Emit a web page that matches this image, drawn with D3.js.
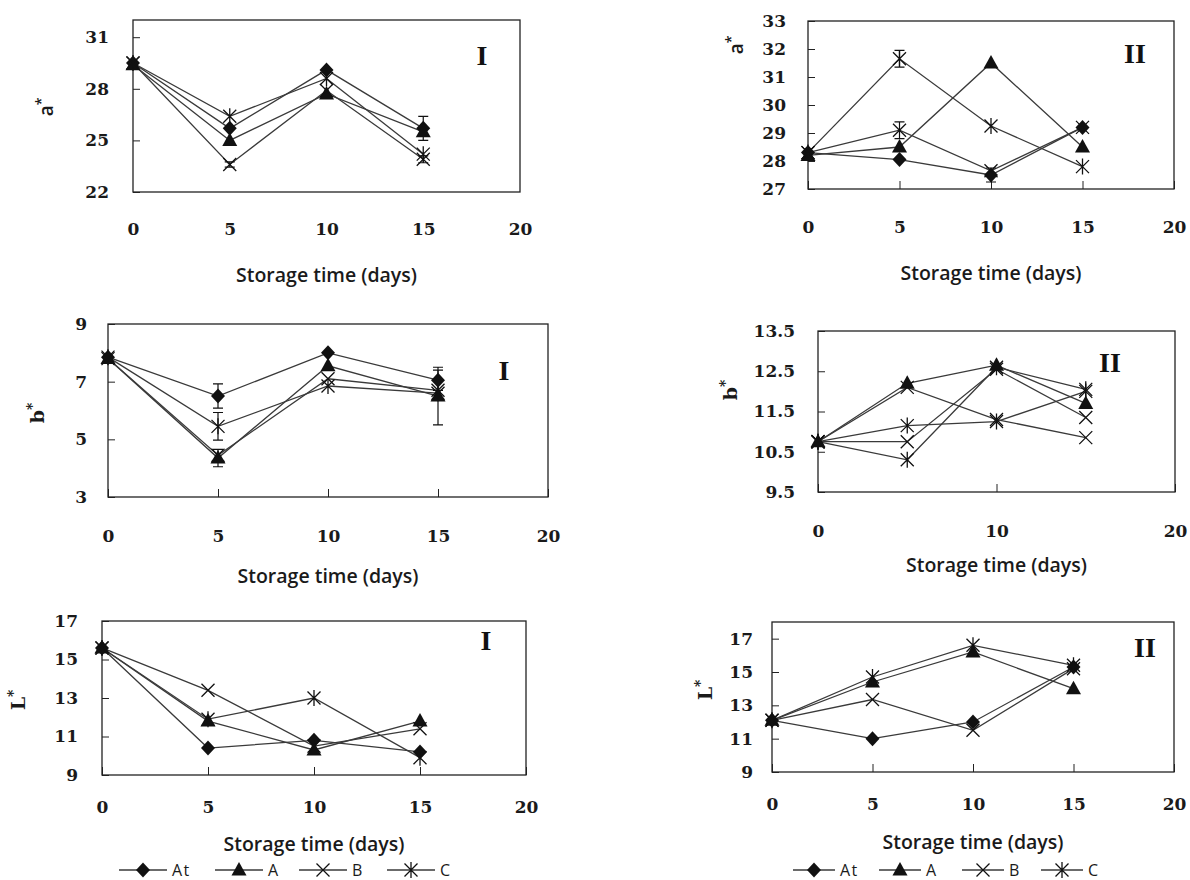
<!DOCTYPE html>
<html><head><meta charset="utf-8">
<script src="https://cdn.jsdelivr.net/npm/d3@7"></script>
<style>body{margin:0;background:#fff}</style>
</head><body>
<svg id="c" width="1190" height="880"></svg>
<script>
// ---------- DATA ----------
const days = [0, 5, 10, 15];
const seriesNames = ["At", "A", "B", "C"];
const xTicksFull = [0, 5, 10, 15, 20];
const xTicksSparse = [0, 10, 20];

// a* , I
const aI_At = [29.5, 25.7, 29.1, 25.7];
const aI_A  = [29.4, 25.0, 27.7, 25.5];
const aI_B  = [29.5, 23.6, 27.9, 23.9];
const aI_C  = [29.5, 26.4, 28.6, 24.2];
const aI_errAt = [0, 0, 0, 0.7];
const aI_errB  = [0, 0.15, 0, 0.2];
const aI_yTicks = [22, 25, 28, 31];

// a* , II
const aII_At = [28.3, 28.05, 27.5, 29.2];
const aII_A  = [28.2, 28.5, 31.5, 28.5];
const aII_B  = [28.3, 29.1, 27.65, 29.2];
const aII_C  = [28.3, 31.65, 29.25, 27.8];
const aII_errAt = [0, 0, 0.25, 0];
const aII_errB  = [0, 0.3, 0, 0];
const aII_errC  = [0, 0.3, 0, 0];
const aII_yTicks = [27, 28, 29, 30, 31, 32, 33];

// b* , I
const bI_At = [7.85, 6.5, 8.0, 7.05];
const bI_A  = [7.8, 4.35, 7.55, 6.5];
const bI_B  = [7.8, 4.45, 7.1, 6.7];
const bI_C  = [7.85, 5.45, 6.85, 6.6];
const bI_errAt = [0, 0.42, 0, 0.35];
const bI_errA  = [0, 0.3, 0, 1.0];
const bI_errC  = [0, 0.48, 0, 0];
const bI_yTicks = [3, 5, 7, 9];

// b* , II (five traces are visible in the picture)
const bII_A  = [10.75, 12.2, 12.65, 11.7];
const bII_B1 = [10.75, 12.1, 11.3, 10.85];
const bII_B2 = [10.75, 10.75, 12.55, 11.35];
const bII_C1 = [10.75, 11.15, 11.25, 12.0];
const bII_C2 = [10.75, 10.3, 12.6, 12.05];
const bII_yTicks = [9.5, 10.5, 11.5, 12.5, 13.5];

// L* , I
const LI_At = [15.6, 10.4, 10.8, 10.2];
const LI_A  = [15.6, 11.8, 10.3, 11.8];
const LI_B  = [15.6, 13.4, 10.5, 11.4];
const LI_C  = [15.6, 11.9, 13.0, 9.9];
const LI_yTicks = [9, 11, 13, 15, 17];

// L* , II
const LII_At = [12.1, 11.0, 12.0, 15.3];
const LII_A  = [12.1, 14.4, 16.2, 14.0];
const LII_B  = [12.1, 13.35, 11.5, 15.2];
const LII_C  = [12.1, 14.7, 16.6, 15.4];
const LII_yTicks = [9, 11, 13, 15, 17];

const markerOf = {At: "diamond", A: "triangle", B: "x", C: "star"};

// ---------- LAYOUT ----------
const panels = [
  {l:133, r:520, t:20, b:192, dom:[22,32], yt:aI_yTicks, xt:xTicksFull, xInTick:false,
   ypad:24, xpad:31, ty:275, ylab:"a", ylx:46, yly:107, ylSerif:false, roman:"I", rx:482, ry:55,
   series:[["At",aI_At,aI_errAt],["A",aI_A,null],["B",aI_B,aI_errB],["C",aI_C,null]]},
  {l:808, r:1174, t:21, b:189, dom:[27,33], yt:aII_yTicks, xt:xTicksFull, xInTick:true,
   ypad:22, xpad:32, ty:273, ylab:"a", ylx:736, yly:45, ylSerif:false, roman:"II", rx:1135, ry:53,
   series:[["At",aII_At,aII_errAt],["A",aII_A,null],["B",aII_B,aII_errB],["C",aII_C,aII_errC]]},
  {l:108, r:548, t:324, b:497, dom:[3,9], yt:bI_yTicks, xt:xTicksFull, xInTick:true,
   ypad:21, xpad:33, ty:576, ylab:"b", ylx:37, yly:413, ylSerif:true, roman:"I", rx:504, ry:370,
   series:[["At",bI_At,bI_errAt],["A",bI_A,bI_errA],["B",bI_B,null],["C",bI_C,bI_errC]]},
  {l:818, r:1175, t:331, b:492, dom:[9.5,13.5], yt:bII_yTicks, xt:xTicksSparse, xInTick:true, yfmt:".1f",
   ypad:23, xpad:33, ty:565, ylab:"b", ylx:730, yly:390, ylSerif:true, roman:"II", rx:1110, ry:362,
   series:[["B",bII_B1,null],["B",bII_B2,null],["C",bII_C1,null],["C",bII_C2,null],["A",bII_A,null]]},
  {l:102, r:526, t:621, b:775, dom:[9,17], yt:LI_yTicks, xt:xTicksFull, xInTick:true,
   ypad:24, xpad:26, ty:844, ylab:"L", ylx:18, yly:700, ylSerif:true, roman:"I", rx:486, ry:640,
   series:[["At",LI_At,null],["A",LI_A,null],["B",LI_B,null],["C",LI_C,null]],
   legend:{y:870, mx:[143,239,323,411], half:24, tdx:29}},
  {l:772, r:1174, t:622, b:772, dom:[9,18], yt:LII_yTicks, xt:xTicksFull, xInTick:true,
   ypad:19, xpad:26, ty:842, ylab:"L", ylx:705, yly:690, ylSerif:true, roman:"II", rx:1145, ry:647,
   series:[["At",LII_At,null],["A",LII_A,null],["B",LII_B,null],["C",LII_C,null]],
   legend:{y:870, mx:[814,900,983,1062], half:21, tdx:26}}
];

const INK = "#111";
const LINE = "#3a3a3a";
const SANS = "'Open Sans', 'DejaVu Sans', sans-serif";
const SERIF = "'DejaVu Serif', 'Liberation Serif', serif";

const svg = d3.select("#c");
svg.append("rect").attr("width", 1190).attr("height", 880).attr("fill", "#fff");

function drawMarker(g, type, cx, cy) {
  if (type === "diamond") {
    const p = d3.path();
    p.moveTo(cx, cy - 7.5); p.lineTo(cx + 7, cy); p.lineTo(cx, cy + 7.5); p.lineTo(cx - 7, cy); p.closePath();
    g.append("path").attr("d", p.toString()).attr("fill", INK);
  } else if (type === "triangle") {
    const p = d3.path();
    p.moveTo(cx, cy - 8); p.lineTo(cx + 7.5, cy + 5.5); p.lineTo(cx - 7.5, cy + 5.5); p.closePath();
    g.append("path").attr("d", p.toString()).attr("fill", INK);
  } else {
    const p = d3.path();
    const h = 6.5;
    p.moveTo(cx - h, cy - h); p.lineTo(cx + h, cy + h);
    p.moveTo(cx - h, cy + h); p.lineTo(cx + h, cy - h);
    if (type === "star") { p.moveTo(cx, cy - 8); p.lineTo(cx, cy + 8); }
    g.append("path").attr("d", p.toString()).attr("fill", "none").attr("stroke", INK).attr("stroke-width", 1.3);
  }
}

panels.forEach(p => {
  const x = d3.scaleLinear().domain([0, 20]).range([p.l, p.r]);
  const y = d3.scaleLinear().domain(p.dom).range([p.b, p.t]);
  const g = svg.append("g");

  // y axis
  const ya = d3.axisLeft(y).tickValues(p.yt).tickSizeInner(-7).tickSizeOuter(0).tickPadding(p.ypad)
    .tickFormat(p.yfmt ? d3.format(p.yfmt) : d3.format("d"));
  const yg = g.append("g").attr("transform", `translate(${p.l},0)`).call(ya);
  yg.select(".domain").remove();
  yg.selectAll("line").attr("stroke", "#222");
  yg.selectAll("text").attr("font-family", SERIF).attr("font-weight", "bold").attr("font-size", 17).attr("fill", "#1a1a1a");

  // x axis
  const xa = d3.axisBottom(x).tickValues(p.xt).tickSizeInner(p.xInTick ? -8 : 0).tickSizeOuter(0).tickPadding(p.xpad)
    .tickFormat(d3.format("d"));
  const xg = g.append("g").attr("transform", `translate(0,${p.b})`).call(xa);
  xg.select(".domain").remove();
  xg.selectAll("line").attr("stroke", "#222");
  xg.selectAll("text").attr("font-family", SERIF).attr("font-weight", "bold").attr("font-size", 17).attr("fill", "#1a1a1a");

  // frame
  g.append("rect").attr("x", p.l).attr("y", p.t).attr("width", p.r - p.l).attr("height", p.b - p.t)
    .attr("fill", "none").attr("stroke", "#222").attr("stroke-width", 1.3);

  // series lines
  const line = d3.line().x((d, i) => x(days[i])).y(d => y(d));
  p.series.forEach(([name, vals]) => {
    g.append("path").datum(vals).attr("d", line).attr("fill", "none").attr("stroke", LINE).attr("stroke-width", 1.3);
  });
  // error bars
  p.series.forEach(([name, vals, errs]) => {
    if (!errs) return;
    vals.forEach((v, i) => {
      const e = errs[i];
      if (!e) return;
      const cx = x(days[i]);
      const eb = d3.path();
      eb.moveTo(cx, y(v - e)); eb.lineTo(cx, y(v + e));
      eb.moveTo(cx - 5, y(v - e)); eb.lineTo(cx + 5, y(v - e));
      eb.moveTo(cx - 5, y(v + e)); eb.lineTo(cx + 5, y(v + e));
      g.append("path").attr("d", eb.toString()).attr("stroke", INK).attr("stroke-width", 1.2).attr("fill", "none");
    });
  });
  // markers
  p.series.forEach(([name, vals]) => {
    vals.forEach((v, i) => drawMarker(g, markerOf[name], x(days[i]), y(v)));
  });

  // x title
  g.append("text").attr("x", (p.l + p.r) / 2).attr("y", p.ty).attr("dy", "0.35em")
    .attr("text-anchor", "middle").attr("font-family", SANS).attr("font-weight", 600).attr("font-size", 19.5)
    .attr("fill", "#1a1a1a").text("Storage time (days)");

  // y title
  const yt = g.append("text").attr("transform", `translate(${p.ylx},${p.yly}) rotate(-90)`)
    .attr("text-anchor", "middle").attr("dy", "0.35em")
    .attr("font-family", p.ylSerif ? SERIF : SANS).attr("font-weight", p.ylSerif ? "bold" : 600)
    .attr("font-size", 19).attr("fill", "#1a1a1a");
  yt.append("tspan").text(p.ylab);
  yt.append("tspan").attr("dy", "-0.45em").attr("font-size", 14).text("*");

  // roman numeral
  g.append("text").attr("x", p.rx).attr("y", p.ry).attr("dy", "0.35em").attr("text-anchor", "middle")
    .attr("font-family", "'Liberation Serif', serif").attr("font-weight", "bold").attr("font-size", 28)
    .attr("fill", "#111").text(p.roman);

  // legend
  if (p.legend) {
    const L = p.legend;
    seriesNames.forEach((n, i) => {
      const mx = L.mx[i];
      g.append("line").attr("x1", mx - L.half).attr("x2", mx + L.half).attr("y1", L.y).attr("y2", L.y)
        .attr("stroke", LINE).attr("stroke-width", 1.3);
      drawMarker(g, markerOf[n], mx, L.y);
      g.append("text").attr("x", mx + L.tdx).attr("y", L.y).attr("dy", "0.35em")
        .attr("font-family", SANS).attr("font-size", 16).attr("letter-spacing", 1.5).attr("fill", "#1a1a1a").text(n);
    });
  }
});
</script>
</body></html>
